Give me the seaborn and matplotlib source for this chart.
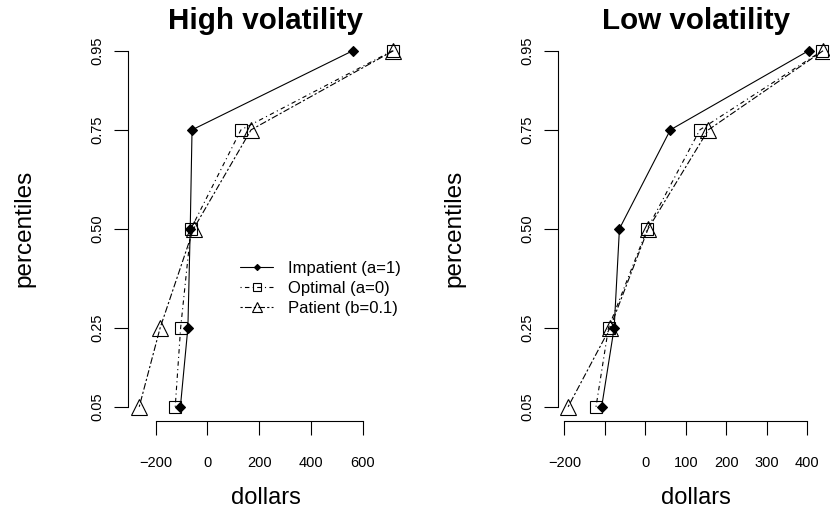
import matplotlib
matplotlib.use("Agg")
import matplotlib.pyplot as plt
import seaborn as sns
import pandas as pd

# ---- data ----
percentiles = [0.05, 0.25, 0.50, 0.75, 0.95]
pct_labels = ["0.05", "0.25", "0.50", "0.75", "0.95"]

high_impatient = [-104, -75, -66, -59, 562]
high_optimal = [-124, -103, -63, 130, 716]
high_patient = [-263, -182, -53, 169, 719]

low_impatient = [-108, -77, -64, 62, 404]
low_optimal = [-122, -91, 5, 135, 438]
low_patient = [-191, -87, 7, 156, 440]

series_names = ["Impatient (a=1)", "Optimal (a=0)", "Patient (b=0.1)"]
titles = ["High volatility", "Low volatility"]

high_ticks = [-200, 0, 200, 400, 600]
high_tick_labels = ["\u2212200", "0", "200", "400", "600"]
low_ticks = [-200, -100, 0, 100, 200, 300, 400]
low_tick_labels = ["\u2212200", "", "0", "100", "200", "300", "400"]

# ---- style ----
sns.set_style("white")
plt.rcParams["font.family"] = ["Liberation Sans", "DejaVu Sans"]
plt.rcParams["text.color"] = "black"
plt.rcParams["axes.labelcolor"] = "black"
plt.rcParams["xtick.color"] = "black"
plt.rcParams["ytick.color"] = "black"

W, H = 830, 514
fig = plt.figure(figsize=(W / 100, H / 100), dpi=100)

styles = [
    dict(linestyle="-", marker="D", markersize=4.8, markerfacecolor="black"),
    dict(linestyle=(0, (1, 3, 4, 3)), marker="s", markersize=8.5, markerfacecolor="none"),
    dict(linestyle=(0, (2, 2, 6, 2)), marker="^", markersize=12, markerfacecolor="none"),
]

panels = [
    dict(left=127.7, right=403.5, xlim=(-307.6, 758.1),
         data=[high_impatient, high_optimal, high_patient],
         ticks=high_ticks, labels=high_tick_labels, title=titles[0], ylab_x=24),
    dict(left=557.7, right=833.3, xlim=(-216.8, 465.3),
         data=[low_impatient, low_optimal, low_patient],
         ticks=low_ticks, labels=low_tick_labels, title=titles[1], ylab_x=454),
]

top_px, bot_px = 36.5, 421.0

for i, p in enumerate(panels):
    ax = fig.add_axes([p["left"] / W, 1 - bot_px / H,
                       (p["right"] - p["left"]) / W, (bot_px - top_px) / H])
    for name, vals, st in zip(series_names, p["data"], styles):
        df = pd.DataFrame({"dollars": vals, "percentiles": percentiles})
        sns.lineplot(data=df, x="dollars", y="percentiles", ax=ax, sort=False,
                     estimator=None, color="black", linewidth=0.8,
                     markeredgecolor="black", markeredgewidth=0.8,
                     label=name if i == 0 else None, legend=False, **st)
    ax.set_xlim(*p["xlim"])
    ax.set_ylim(0.014, 0.986)
    ax.set_xticks(p["ticks"])
    ax.set_xticklabels(p["labels"], fontsize=10.5)
    ax.set_yticks(percentiles)
    ax.set_yticklabels(pct_labels, fontsize=10.5, rotation=90, va="center")
    ax.set_xlabel("")
    ax.set_ylabel("")
    for s in ["top", "right"]:
        ax.spines[s].set_visible(False)
    ax.spines["left"].set_bounds(0.05, 0.95)
    ax.spines["bottom"].set_bounds(p["ticks"][0], p["ticks"][-1])
    for s in ["left", "bottom"]:
        ax.spines[s].set_linewidth(0.8)
        ax.spines[s].set_color("black")
    ax.tick_params(axis="both", direction="out", length=10, width=0.8,
                   color="black", labelcolor="black", bottom=True, left=True)
    ax.tick_params(axis="x", pad=15)
    ax.tick_params(axis="y", pad=7)
    ax.set_facecolor("none")
    cx = (p["left"] + p["right"]) / 2
    if i == 1:
        cx = 696
    fig.text(cx / W, 1 - 29 / H, p["title"], ha="center", va="baseline",
             fontsize=21.3, fontweight="bold", color="black")
    fig.text(cx / W, 1 - 504 / H, "dollars", ha="center", va="baseline",
             fontsize=17, color="black")
    fig.text(p["ylab_x"] / W, 1 - 228.7 / H, "percentiles", ha="center",
             va="center", rotation=90, fontsize=17.5, color="black")
    if i == 0:
        leg = ax.legend(loc="center left", bbox_to_anchor=(240 / W, 1 - 288 / H),
                        bbox_transform=fig.transFigure, frameon=False, fontsize=12,
                        borderpad=0, borderaxespad=0, handlelength=2.0,
                        handletextpad=0.9, labelspacing=0.3, markerscale=0.65)
        for t in leg.get_texts():
            t.set_color("black")

fig.savefig("out.png", dpi=100)
